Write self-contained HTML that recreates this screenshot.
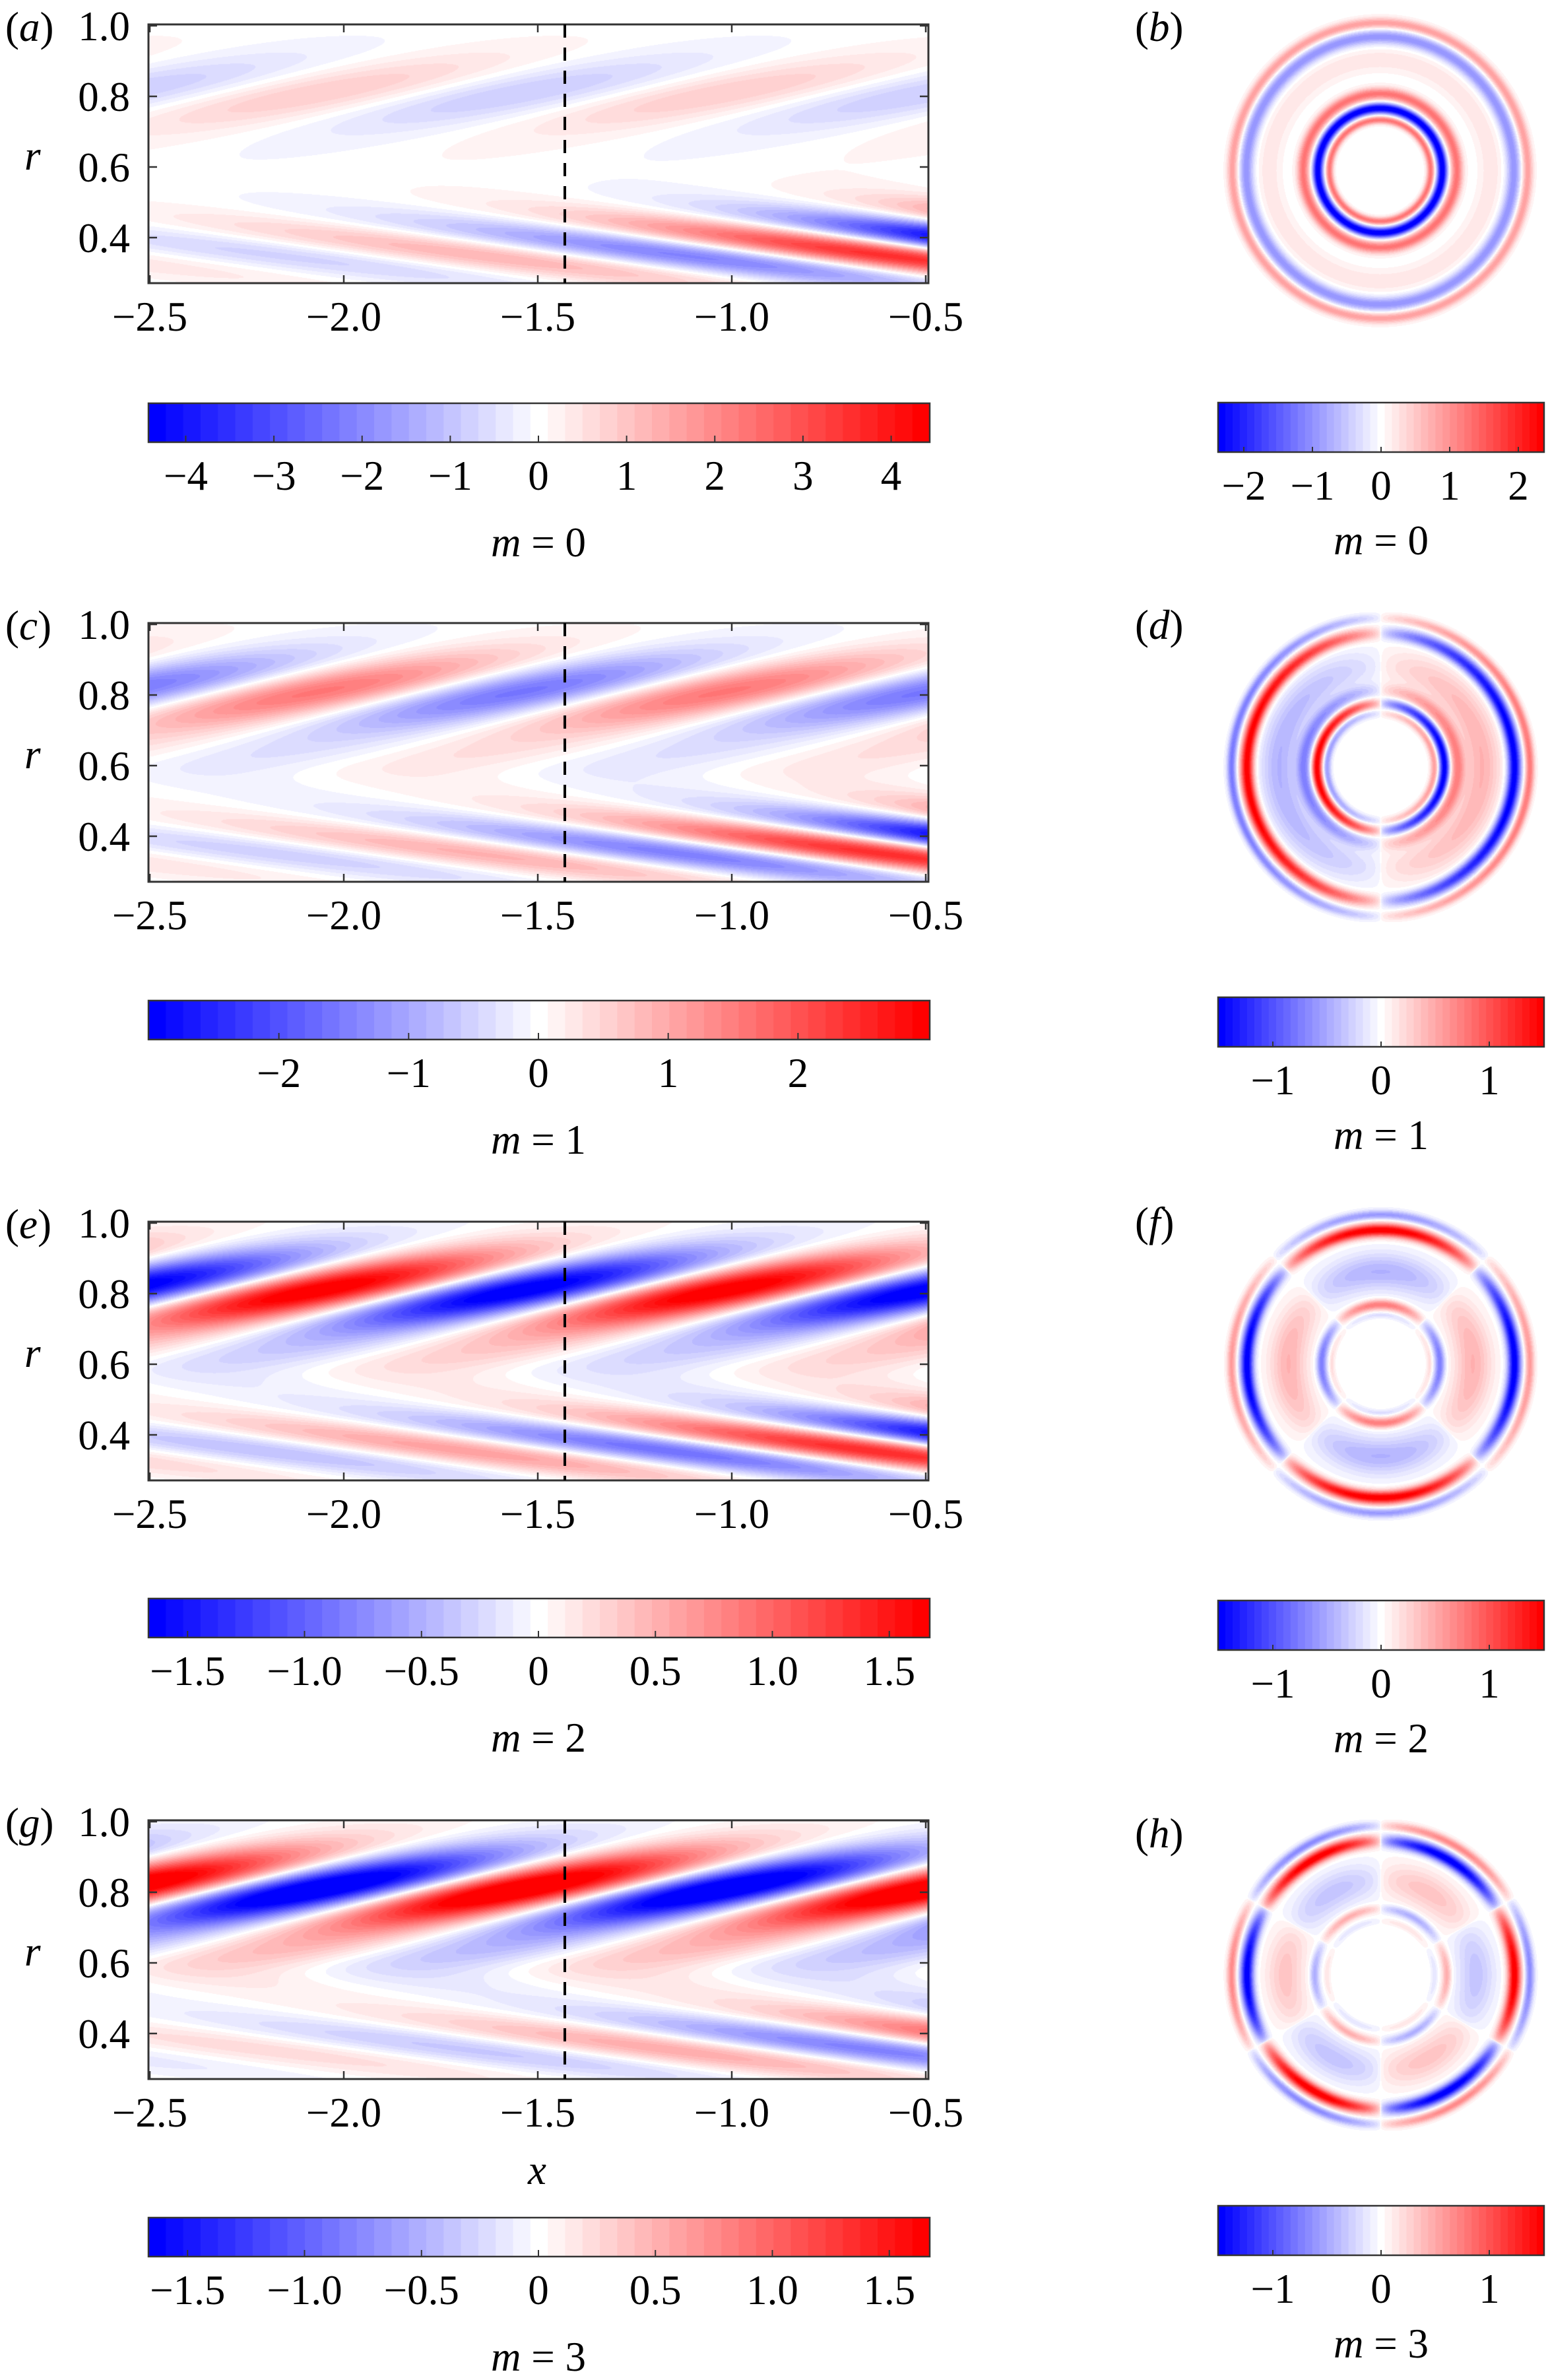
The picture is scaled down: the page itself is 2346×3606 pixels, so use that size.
<!DOCTYPE html>
<html><head><meta charset="utf-8">
<style>
html,body{margin:0;padding:0;background:#fff;}
#root{position:relative;width:2346px;height:3606px;overflow:hidden;background:#fff;}
canvas{position:absolute;}
svg{position:absolute;left:0;top:0;}
</style></head>
<body><div id="root">
<canvas id="L0" width="1180" height="390" style="left:226px;top:38px"></canvas>
<canvas id="L1" width="1180" height="390" style="left:226px;top:945px"></canvas>
<canvas id="L2" width="1180" height="390" style="left:226px;top:1852px"></canvas>
<canvas id="L3" width="1180" height="390" style="left:226px;top:2759px"></canvas>
<canvas id="R0" width="480" height="480" style="left:1851px;top:18px"></canvas>
<canvas id="R1" width="480" height="480" style="left:1852px;top:922px"></canvas>
<canvas id="R2" width="480" height="480" style="left:1852px;top:1826px"></canvas>
<canvas id="R3" width="480" height="480" style="left:1852px;top:2752px"></canvas>
<svg id="S" width="2346" height="3606" xmlns="http://www.w3.org/2000/svg" font-family="'Liberation Serif', 'DejaVu Serif', serif"></svg>
</div>
<script>
(function(){
var L=22;
function col(t){ if(t>1)t=1; if(t<-1)t=-1; var n=Math.round(t*L)/L;
  if(n<0){var v=Math.round(255*(1+n));return [v,v,255];}
  var w=Math.round(255*(1-n));return [255,w,w];}
function hex(c){return 'rgb('+c[0]+','+c[1]+','+c[2]+')';}

var K=6.0,BU=23,BL=39,RC=0.59,EPS=0.05;
function h(d){return Math.sqrt(d*d+EPS*EPS);}
var cu=Math.PI+K*1.43+BU*h(0.25);
var cl=K*0.5+BL*h(0.26);
var mis=(cu-BU*EPS)-(cl-BL*EPS);
cl+=2*Math.PI*Math.round(mis/(2*Math.PI));
function psi(r){var s=1/(1+Math.exp(-(r-RC)/0.025));
  return s*(-BU*h(r-RC)+cu)+(1-s)*(-BL*h(RC-r)+cl);}

var LP=[
 {V:4.43,Au:0.9,A0:0.6,g:1.0,M:0.05,sg:1},
 {V:3.0,Au:1.6,A0:0.45,g:0.95,M:0.25,sg:1},
 {V:1.67,Au:1.8,A0:0.35,g:0.78,M:0.22,sg:1},
 {V:1.67,Au:2.0,A0:0.2,g:0.8,M:0.3,sg:-1}
];
LP.forEach(function(p,i){
  var c=document.getElementById('L'+i),ctx=c.getContext('2d');
  var W=c.width,H=c.height,img=ctx.createImageData(W,H),d=img.data;
  for(var py=0;py<H;py++){
    var r=1-(py-1)/535;
    var ps=psi(r);
    var gu=Math.exp(-Math.pow((r-0.81)/0.11,2));
    var gl=Math.exp(-Math.pow((r-0.38)/0.1,2));
    var gm=Math.exp(-Math.pow((r-0.62)/0.08,2));
    for(var px=0;px<W;px++){
      var x=-2.5+(px-1)/588;
      var Al=p.A0*Math.exp(p.g*(x+2.5));
      var A=p.Au*gu+Al*gl+p.M*gm;
      var v=p.sg*A*Math.cos(K*x+ps)/p.V;
      var cc=col(v),o=(py*W+px)*4;
      d[o]=cc[0];d[o+1]=cc[1];d[o+2]=cc[2];d[o+3]=255;
    }
  }
  ctx.putImageData(img,0,0);
});

var RP=[
 {V:2.375,m:0,prof:[[0.96,0.9,0.035],[0.87,-1.0,0.045],[0.72,0.25,0.07],[0.5,1.3,0.04],[0.405,-2.6,0.033],[0.33,1.3,0.025]]},
 {V:1.506,m:1,prof:[[0.97,0.8,0.03],[0.87,-1.6,0.042],[0.66,0.45,0.12],[0.5,0.7,0.045],[0.415,-1.6,0.033],[0.35,0.6,0.025]]},
 {V:1.506,m:2,prof:[[0.97,0.6,0.03],[0.87,-1.6,0.042],[0.6,0.45,0.12],[0.385,-0.8,0.033],[0.32,0.2,0.02]]},
 {V:1.506,m:3,prof:[[0.97,-0.7,0.03],[0.87,1.6,0.042],[0.62,-0.35,0.12],[0.43,0.5,0.03],[0.35,-0.15,0.02]]}
];
RP.forEach(function(p,i){
  var c=document.getElementById('R'+i),ctx=c.getContext('2d');
  var W=c.width,H=c.height,img=ctx.createImageData(W,H),d=img.data;
  for(var py=0;py<H;py++){for(var px=0;px<W;px++){
    var dx=px-240,dy=py-240,rr=Math.sqrt(dx*dx+dy*dy)/233,o=(py*W+px)*4;
    if(rr<0.28||rr>1.03){d[o]=255;d[o+1]=255;d[o+2]=255;d[o+3]=0;continue;}
    var f=0;p.prof.forEach(function(q){f+=q[1]*Math.exp(-Math.pow((rr-q[0])/q[2],2));});
    var a=1;
    if(p.m>0){var ph=Math.atan2(-dy,dx);var cm=Math.cos(p.m*ph);a=(cm<0?-1:1)*Math.pow(Math.abs(cm),0.5);}
    var cc=col(f*a/p.V);
    d[o]=cc[0];d[o+1]=cc[1];d[o+2]=cc[2];d[o+3]=255;
  }}
  ctx.putImageData(img,0,0);
});

var S=document.getElementById('S'),s='';
var FF='font-family="Liberation Serif, DejaVu Serif, serif"';
function T(x,y,str,anchor,extra){s+='<text x="'+x+'" y="'+y+'" font-size="63" '+FF+' text-anchor="'+(anchor||'start')+'" '+(extra||'')+'>'+str+'</text>';}
var tops=[37,944,1851,2758];
var xt=[[-2.5,227],[-2.0,521],[-1.5,815],[-1.0,1109],[-0.5,1403]];
var labs=['a','c','e','g'],rlabs=['b','d','f','h'];
var cbTop=[611,1516,2422,3360];
var cbDefs=[
 {V:4.43,ticks:[-4,-3,-2,-1,0,1,2,3,4],fmt:function(v){return v<0?'\u2212'+(-v):''+v;}},
 {V:3.01,ticks:[-2,-1,0,1,2],fmt:function(v){return v<0?'\u2212'+(-v):''+v;}},
 {V:1.67,ticks:[-1.5,-1,-0.5,0,0.5,1,1.5],fmt:function(v){return v==0?'0':(v<0?'\u2212':'')+Math.abs(v).toFixed(1);}},
 {V:1.67,ticks:[-1.5,-1,-0.5,0,0.5,1,1.5],fmt:function(v){return v==0?'0':(v<0?'\u2212':'')+Math.abs(v).toFixed(1);}}
];
function cbar(x0,x1,y0,hh){
  var N=45,w=(x1-x0)/N;
  for(var k=0;k<N;k++){var t=-1+(k+0.5)*2/N;s+='<rect x="'+(x0+k*w).toFixed(2)+'" y="'+y0+'" width="'+(w+0.6).toFixed(2)+'" height="'+hh+'" fill="'+hex(col(t))+'"/>';}
  s+='<rect x="'+x0+'" y="'+y0+'" width="'+(x1-x0)+'" height="'+hh+'" fill="none" stroke="#333" stroke-width="2.5"/>';
}
for(var i=0;i<4;i++){
  var Tp=tops[i],B=Tp+392;
  s+='<rect x="225" y="'+Tp+'" width="1182" height="392" fill="none" stroke="#333" stroke-width="3"/>';
  for(var k=0;k<4;k++){var y=Tp+2+107*k;
    s+='<line x1="225" y1="'+y+'" x2="238" y2="'+y+'" stroke="#333" stroke-width="2.5"/>';
    s+='<line x1="1394" y1="'+y+'" x2="1407" y2="'+y+'" stroke="#333" stroke-width="2.5"/>';
    T(197,y+22,['1.0','0.8','0.6','0.4'][k],'end');}
  xt.forEach(function(q){
    s+='<line x1="'+q[1]+'" y1="'+B+'" x2="'+q[1]+'" y2="'+(B-12)+'" stroke="#333" stroke-width="2.5"/>';
    s+='<line x1="'+q[1]+'" y1="'+Tp+'" x2="'+q[1]+'" y2="'+(Tp+12)+'" stroke="#333" stroke-width="2.5"/>';
    T(q[1],Tp+464,(q[0]<0?'\u2212':'')+Math.abs(q[0]).toFixed(1),'middle');});
  s+='<line x1="856" y1="'+Tp+'" x2="856" y2="'+B+'" stroke="#000" stroke-width="4" stroke-dasharray="20 15"/>';
  T(8,Tp+25,'(<tspan font-style="italic">'+labs[i]+'</tspan>)','start');
  T(37,Tp+220,'r','start','font-style="italic"');
  var cb=cbDefs[i],ct=cbTop[i];
  cbar(225,1409,ct,59);
  cb.ticks.forEach(function(v){var x=816+v*592/cb.V;
    s+='<line x1="'+x+'" y1="'+(ct+59)+'" x2="'+x+'" y2="'+(ct+49)+'" stroke="#333" stroke-width="2"/>';
    T(x,ct+131,cb.fmt(v),'middle');});
  T(816,ct+232,'<tspan font-style="italic">m</tspan> = '+i,'middle');
}
T(814,3309,'x','middle','font-style="italic"');
var rcb=[610,1511,2425,3342],rlabY=[40,946,1851,2777];
for(var i=0;i<4;i++){
  var ct=rcb[i],V=i==0?2.375:1.506,tk=i==0?[-2,-1,0,1,2]:[-1,0,1];
  cbar(1846,2340,ct,75);
  tk.forEach(function(v){var x=2093+v*247/V;
    s+='<line x1="'+x+'" y1="'+(ct+75)+'" x2="'+x+'" y2="'+(ct+67)+'" stroke="#333" stroke-width="2"/>';
    T(x,ct+147,(v<0?'\u2212':'')+Math.abs(v),'middle');});
  T(2093,ct+230,'<tspan font-style="italic">m</tspan> = '+i,'middle');
  T(1720,rlabY[i]+22,'(<tspan font-style="italic">'+rlabs[i]+'</tspan>)','start');
}
S.innerHTML=s;
})();
</script>
</body></html>
